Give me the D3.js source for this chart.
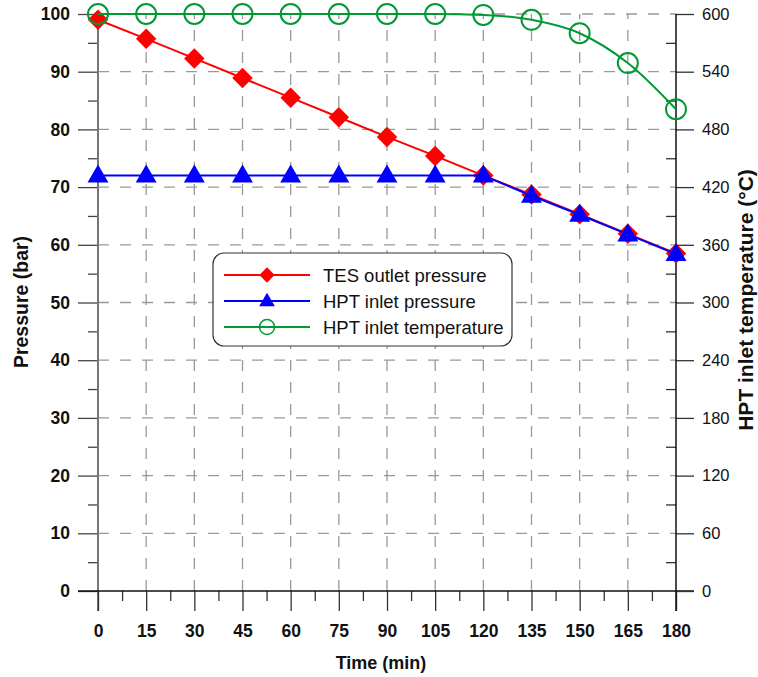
<!DOCTYPE html>
<html>
<head>
<meta charset="utf-8">
<script src="https://cdn.jsdelivr.net/npm/d3@7"></script>
<style>
  body { margin: 0; background: #fff; }
  text { font-family: "Liberation Sans", Arial, sans-serif; }
</style>
</head>
<body>
<div id="chart"></div>
<script>
const times = [0, 15, 30, 45, 60, 75, 90, 105, 120, 135, 150, 165, 180];
const tesPressure = [99.0, 95.7, 92.3, 88.9, 85.5, 82.1, 78.7, 75.4, 72.0, 68.7, 65.3, 61.9, 58.5];
const hptPressure = [72.0, 72.0, 72.0, 72.0, 72.0, 72.0, 72.0, 72.0, 72.0, 68.5, 65.2, 61.8, 58.4];
const hptTemp = [600, 600, 600, 600, 600, 600, 600, 600, 599, 594, 580, 549, 501];
const pressureTicks = [0, 10, 20, 30, 40, 50, 60, 70, 80, 90, 100];
const tempTicks = [0, 60, 120, 180, 240, 300, 360, 420, 480, 540, 600];

const W = 758, H = 677;
const svg = d3.select('#chart').append('svg').attr('width', W).attr('height', H);

const x = d3.scaleLinear().domain([0, 180]).range([98, 676]);
const y = d3.scaleLinear().domain([0, 100]).range([591, 14]);
const yR = d3.scaleLinear().domain([0, 600]).range([591, 14]);

// grid
const grid = svg.append('g').attr('stroke', '#999').attr('stroke-width', 1.3).attr('stroke-dasharray', '11,11');
grid.selectAll('.gx').data(times.filter(t => t > 0 && t < 180)).enter().append('line')
  .attr('x1', d => x(d)).attr('x2', d => x(d)).attr('y1', y(0)).attr('y2', y(100));
grid.selectAll('.gy').data(pressureTicks.filter(t => t > 0)).enter().append('line')
  .attr('y1', d => y(d)).attr('y2', d => y(d)).attr('x1', x(0)).attr('x2', x(180));

function styleAxis(g, color) {
  g.select('.domain').remove();
  g.selectAll('.tick line').attr('stroke', color).attr('stroke-width', 1.3);
}

// left axis
svg.append('g').attr('transform', `translate(${x(0)},0)`)
  .call(d3.axisLeft(y).tickValues(d3.range(5, 100, 10)).tickSize(10).tickFormat(''))
  .call(g => styleAxis(g, '#444'));
svg.append('g').attr('transform', `translate(${x(0)},0)`)
  .call(d3.axisLeft(y).tickValues(pressureTicks).tickSize(20).tickPadding(8))
  .call(g => styleAxis(g, '#444'))
  .call(g => g.selectAll('.tick text').attr('font-size', 17.5).attr('font-weight', 'bold').attr('fill', '#111'));
svg.append('line').attr('x1', x(0)).attr('x2', x(0)).attr('y1', y(100)).attr('y2', y(0) + 20)
  .attr('stroke', '#777').attr('stroke-width', 2);

// bottom axis
svg.append('g').attr('transform', `translate(0,${y(0)})`)
  .call(d3.axisBottom(x).tickValues(d3.range(7.5, 180, 15)).tickSize(10).tickFormat(''))
  .call(g => styleAxis(g, '#333'));
svg.append('g').attr('transform', `translate(0,${y(0)})`)
  .call(d3.axisBottom(x).tickValues(times).tickSize(20).tickPadding(14))
  .call(g => styleAxis(g, '#333'))
  .call(g => g.selectAll('.tick text').attr('font-size', 17.5).attr('font-weight', 'bold').attr('fill', '#111'));
svg.append('line').attr('x1', x(0) - 20).attr('x2', x(180) + 18).attr('y1', y(0)).attr('y2', y(0))
  .attr('stroke', '#111').attr('stroke-width', 1.5);

// right axis
svg.append('g').attr('transform', `translate(${x(180)},0)`)
  .call(d3.axisLeft(yR).tickValues(d3.range(30, 600, 60)).tickSize(10).tickFormat(''))
  .call(g => styleAxis(g, '#333'));
svg.append('g').attr('transform', `translate(${x(180)},0)`)
  .call(d3.axisRight(yR).tickValues(tempTicks).tickSize(18).tickPadding(8))
  .call(g => styleAxis(g, '#333'))
  .call(g => g.selectAll('.tick text').attr('font-size', 16.5).attr('fill', '#111'));
svg.append('line').attr('x1', x(180)).attr('x2', x(180)).attr('y1', y(100)).attr('y2', y(0) + 20)
  .attr('stroke', '#111').attr('stroke-width', 1.5);

// axis titles
svg.append('text').attr('transform', `translate(28,302) rotate(-90)`)
  .attr('text-anchor', 'middle').attr('font-size', 19.5).attr('font-weight', 'bold').attr('fill', '#111')
  .text('Pressure (bar)');
svg.append('text').attr('transform', `translate(753,300) rotate(-90)`)
  .attr('text-anchor', 'middle').attr('font-size', 21).attr('font-weight', 'bold').attr('fill', '#111')
  .text('HPT inlet temperature (°C)');
svg.append('text').attr('x', 381).attr('y', 669)
  .attr('text-anchor', 'middle').attr('font-size', 18).attr('font-weight', 'bold').attr('fill', '#111')
  .text('Time (min)');

const red = '#ff0000', blue = '#0000ff', green = '#009933';
const diamond = d3.symbol().type(d3.symbolSquare).size(210);
const triangle = d3.symbol().type(d3.symbolTriangle).size(190);

function drawMarker(g, kind, color) {
  if (kind === 'diamond') {
    g.append('path').attr('d', diamond()).attr('transform', 'rotate(45)').attr('fill', color);
  } else if (kind === 'triangle') {
    g.append('path').attr('d', triangle()).attr('transform', 'translate(0,1)').attr('fill', color);
  } else {
    g.append('circle').attr('r', 10).attr('fill', 'none').attr('stroke', color).attr('stroke-width', 2);
  }
}

// TES outlet pressure
const lineP = d3.line().x((d, i) => x(times[i])).y(d => y(d));
svg.append('path').datum(tesPressure).attr('d', lineP).attr('fill', 'none').attr('stroke', red).attr('stroke-width', 2);
svg.selectAll('.mTes').data(tesPressure).enter().append('g')
  .attr('transform', (d, i) => `translate(${x(times[i])},${y(d)})`)
  .each(function () { drawMarker(d3.select(this), 'diamond', red); });

// HPT inlet pressure
svg.append('path').datum(hptPressure).attr('d', lineP).attr('fill', 'none').attr('stroke', blue).attr('stroke-width', 2);
svg.selectAll('.mHpt').data(hptPressure).enter().append('g')
  .attr('transform', (d, i) => `translate(${x(times[i])},${y(d)})`)
  .each(function () { drawMarker(d3.select(this), 'triangle', blue); });

// HPT inlet temperature
const lineT = d3.line().x((d, i) => x(times[i])).y(d => yR(d)).curve(d3.curveMonotoneX);
svg.append('path').datum(hptTemp).attr('d', lineT).attr('fill', 'none').attr('stroke', green).attr('stroke-width', 2);
svg.selectAll('.mTemp').data(hptTemp).enter().append('g')
  .attr('transform', (d, i) => `translate(${x(times[i])},${yR(d)})`)
  .each(function () { drawMarker(d3.select(this), 'circle', green); });

// legend
const legendItems = [
  { label: 'TES outlet pressure', color: red, kind: 'diamond' },
  { label: 'HPT inlet pressure', color: blue, kind: 'triangle' },
  { label: 'HPT inlet temperature', color: green, kind: 'circle' }
];
const lg = svg.append('g').attr('transform', 'translate(213,253)');
lg.append('rect').attr('width', 299).attr('height', 93).attr('rx', 11)
  .attr('fill', '#fff').attr('stroke', '#333').attr('stroke-width', 1.2);
legendItems.forEach((it, i) => {
  const row = lg.append('g').attr('transform', `translate(0,${22 + i * 26})`);
  row.append('line').attr('x1', 11).attr('x2', 97).attr('stroke', it.color).attr('stroke-width', 2);
  const m = row.append('g').attr('transform', 'translate(54,0) scale(0.75)');
  drawMarker(m, it.kind, it.color);
  row.append('text').attr('x', 110).attr('y', 6.5).attr('font-size', 18.5).attr('fill', '#111').text(it.label);
});
</script>
</body>
</html>
